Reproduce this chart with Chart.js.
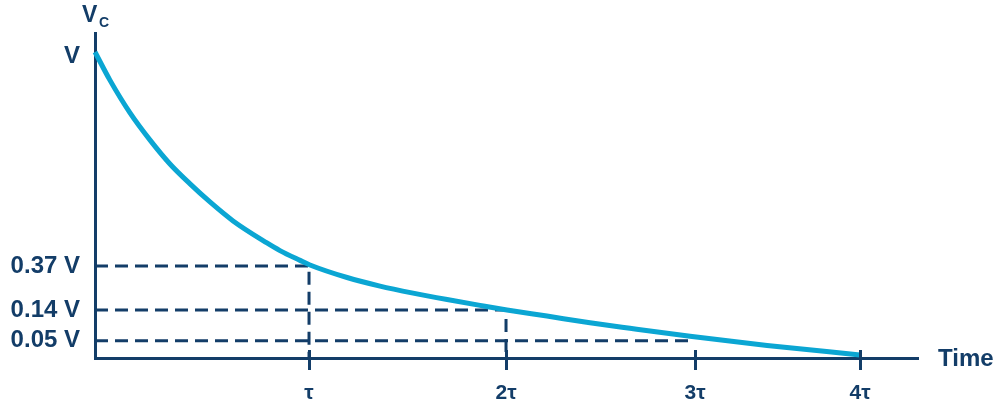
<!DOCTYPE html>
<html>
<head>
<meta charset="utf-8">
<script src="https://cdn.jsdelivr.net/npm/chart.js@4"></script>
<style>
  html, body { margin: 0; padding: 0; background: #fff; }
</style>
</head>
<body>
<canvas id="rcChart" width="1007" height="402"></canvas>
<script>
// x in plot units (4τ = 4), y as a fraction of V (drawing is schematic, not to scale)
const timeTicks = [1.119, 2.149, 3.137, 4];
const timeLabels = ['τ', '2τ', '3τ', '4τ'];
const voltTicks = [0.056, 0.157, 0.301, 0.985];
const voltLabels = ['0.05 V', '0.14 V', '0.37 V', 'V'];

// discharge curve
const curveX = [0, 0.078, 0.183, 0.288, 0.392, 0.497, 0.601, 0.722, 0.899, 0.967, 1.072, 1.124, 1.318, 1.490,
    1.663, 1.841, 2.013, 2.154, 2.363, 2.588, 2.797, 3.111, 3.514, 4];
const curveY = [1.000, 0.908, 0.801, 0.712, 0.634, 0.569, 0.510, 0.448, 0.376, 0.351, 0.319, 0.304, 0.263, 0.235,
    0.212, 0.191, 0.172, 0.157, 0.137, 0.115, 0.097, 0.071, 0.041, 0.010];

// dashed guides: level, time where it stops, drop down to axis or not
const guideLevels = [0.301, 0.157, 0.056];
const guideTimes = [1.119, 2.149, 3.137];
const guideDrop = [true, true, false];

const navy = '#133d68';
const cyan = '#0ba6d3';
const font = '"Liberation Sans", Arial, sans-serif';

const datasets = [{
    data: curveX.map((x, i) => ({ x: x, y: curveY[i] })),
    borderColor: cyan,
    borderWidth: 5,
    pointRadius: 0,
    cubicInterpolationMode: 'monotone',
    clip: false
}];

guideLevels.forEach((lvl, i) => {
    const pts = [{ x: 0, y: lvl }, { x: guideTimes[i], y: lvl }];
    if (guideDrop[i]) pts.push({ x: guideTimes[i], y: 0 });
    datasets.push({
        data: pts,
        borderColor: navy,
        borderWidth: 3,
        borderDash: [13, 7],
        pointRadius: 0,
        tension: 0,
        clip: false
    });
});

// tick marks across the time axis plus the axis names
const annotations = {
    id: 'annotations',
    afterDraw(chart) {
        const { ctx, scales: { x, y } } = chart;
        ctx.save();
        ctx.strokeStyle = navy;
        ctx.lineWidth = 3;
        timeTicks.forEach(v => {
            const px = Math.round(x.getPixelForValue(v)) + 0.5;
            ctx.beginPath();
            ctx.moveTo(px, y.bottom - 8);
            ctx.lineTo(px, y.bottom + 12);
            ctx.stroke();
        });
        ctx.fillStyle = navy;
        ctx.textBaseline = 'alphabetic';
        ctx.font = 'bold 23px ' + font;
        ctx.fillText('V', 82, 22);
        ctx.font = 'bold 24px ' + font;
        ctx.fillText('Time', 938, 366);
        ctx.font = 'bold 14px ' + font;
        ctx.fillText('C', 99, 27);
        ctx.restore();
    }
};

new Chart(document.getElementById('rcChart'), {
    type: 'line',
    data: { datasets: datasets },
    plugins: [annotations],
    options: {
        responsive: false,
        animation: false,
        devicePixelRatio: 1,
        layout: { padding: { top: 33, right: 89, left: 0, bottom: 0 } },
        plugins: { legend: { display: false }, tooltip: { enabled: false } },
        scales: {
            x: {
                type: 'linear',
                min: 0,
                max: 4.303,
                grid: { display: false, drawTicks: false },
                border: { color: navy, width: 3 },
                afterFit: s => { s.height = 44; },
                afterBuildTicks: s => { s.ticks = timeTicks.map(v => ({ value: v })); },
                ticks: {
                    autoSkip: false,
                    maxRotation: 0,
                    padding: 23,
                    color: navy,
                    font: { family: font, size: 21, weight: 'bold' },
                    callback: (v, i) => timeLabels[i]
                }
            },
            y: {
                type: 'linear',
                min: 0,
                max: 1.062,
                grid: { display: false, drawTicks: false },
                border: { color: navy, width: 3 },
                afterFit: s => { s.width = 95; },
                afterBuildTicks: s => { s.ticks = voltTicks.map(v => ({ value: v })); },
                ticks: {
                    autoSkip: false,
                    padding: 15,
                    color: navy,
                    font: { family: font, size: 24, weight: 'bold' },
                    callback: (v, i) => voltLabels[i]
                }
            }
        }
    }
});
</script>
</body>
</html>
